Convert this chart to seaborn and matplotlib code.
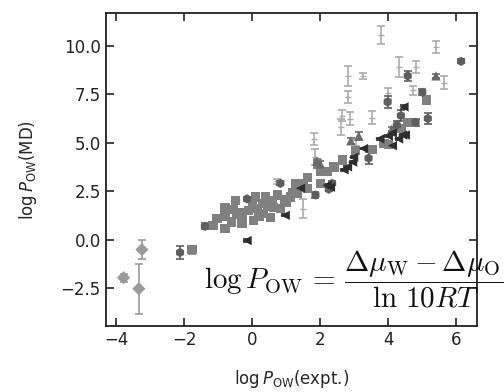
import numpy as np
import pandas as pd
import matplotlib
matplotlib.use("Agg")
import matplotlib.pyplot as plt
import seaborn as sns

# ---- data ----
# error-bar-only points (light gray)
x_err = [3.78, 5.40, 4.30, 4.80, 2.83, 3.27, 5.63, 4.72, 2.83, 3.98, 2.65, 2.86, 2.60, 3.51, 1.83, 1.86, 1.50, 0.74, 3.05]
y_err = [10.57, 9.95, 8.90, 8.90, 8.45, 8.45, 8.10, 7.70, 7.35, 7.55, 6.40, 6.25, 5.80, 6.30, 5.20, 4.25, 1.60, 3.00, 4.90]
e_err = [0.47, 0.30, 0.50, 0.30, 0.50, 0.15, 0.35, 0.25, 0.30, 0.30, 0.30, 0.35, 0.40, 0.35, 0.30, 0.40, 0.50, 0.15, 0.25]

# diamonds
x_dia = [-3.24, -3.78, -3.33]
y_dia = [-0.52, -1.97, -2.54]
e_dia = [0.50, 0.20, 1.30]

# hexagons
x_hex = [-2.12, -1.39, 0.83, 1.86, 2.35, 3.42, 3.98, 4.37, 4.57, 4.80, 5.00, 5.16, 6.14, 2.25, -0.15, 4.25]
y_hex = [-0.67, 0.68, 2.90, 2.30, 2.90, 4.20, 7.10, 6.40, 8.45, 6.05, 7.60, 6.25, 9.20, 2.60, 2.10, 5.90]
e_hex = [0.35, 0.15, 0.10, 0.15, 0.10, 0.30, 0.30, 0.30, 0.25, 0.20, 0.15, 0.30, 0.10, 0.10, 0.10, 0.20]

# squares
x_sq = [-1.77, -1.15, -1.03, -0.80, -0.80, -0.80, -0.50, -0.35, -0.30, -0.30, 0.00, 0.03, 0.15, 0.30,
        0.33, 0.45, 0.60, 0.53, 0.62, 0.83, 0.95, 1.12, 1.20, 1.27, 1.33, 1.62, 1.62, 1.92, 2.00, 2.00,
        2.20, 2.40, 2.65, 3.04, 3.54, 3.87, 4.00, 4.37, 4.57, 5.13, -0.60, -0.10, 0.20, 0.75, 1.00,
        1.50, -0.55, -0.45, 0.10, 0.40]
y_sq = [-0.52, 0.73, 1.10, 0.57, 1.66, 1.20, 2.00, 1.40, 0.83, 1.10, 1.85, 1.00, 1.60, 1.85,
        1.35, 1.70, 2.00, 1.15, 1.66, 1.60, 2.05, 2.20, 2.40, 2.90, 2.40, 3.20, 2.65, 3.90, 2.90, 3.50,
        3.50, 3.75, 4.10, 4.60, 4.65, 4.95, 4.90, 5.75, 6.05, 7.20, 0.90, 1.50, 1.20, 2.30, 1.90,
        2.90, 1.55, 1.30, 2.20, 2.20]
e_sq = [0.20, 0.10, 0.10, 0.15, 0.10, 0.10, 0.10, 0.10, 0.10, 0.10, 0.10, 0.10, 0.10, 0.10,
        0.10, 0.10, 0.10, 0.10, 0.10, 0.10, 0.10, 0.10, 0.10, 0.10, 0.10, 0.10, 0.10, 0.10, 0.10, 0.10,
        0.10, 0.10, 0.10, 0.10, 0.10, 0.10, 0.10, 0.10, 0.10, 0.15, 0.10, 0.10, 0.10, 0.10, 0.10,
        0.10, 0.10, 0.10, 0.10, 0.10]

# up triangles
x_tri = [2.00, 2.90, 3.13, 5.40, 1.90, 4.10]
y_tri = [3.90, 5.10, 5.35, 8.45, 4.05, 5.70]
e_tri = [0.15, 0.15, 0.20, 0.10, 0.10, 0.10]

# left triangles (dark)
x_lt = [-0.15, 0.97, 1.42, 2.20, 2.30, 2.80, 2.95, 2.98, 3.27, 3.75, 4.12, 4.12, 4.42, 4.50, 4.46, 2.70, 4.30, 4.00]
y_lt = [-0.05, 1.25, 2.65, 2.80, 2.70, 3.75, 4.00, 4.25, 4.70, 5.20, 4.85, 5.50, 5.40, 5.40, 6.85, 3.60, 5.20, 5.35]
e_lt = [0.10, 0.05, 0.05, 0.05, 0.05, 0.05, 0.05, 0.05, 0.05, 0.05, 0.05, 0.05, 0.05, 0.05, 0.10, 0.05, 0.05, 0.05]

x_label = r"$\log P_{\rm OW}$(expt.)"
y_label = r"$\log P_{\rm OW}$(MD)"
formula = r"$\log P_{\rm OW}\,=\,\dfrac{\Delta\mu_{\rm W} - \Delta\mu_{\rm O}}{\ln\,10RT}$"

groups = {
    "dia": (x_dia, y_dia, e_dia, "D", "#9a9a9a", 5),
    "sq": (x_sq, y_sq, e_sq, "s", "#808080", 6),
    "tri": (x_tri, y_tri, e_tri, "^", "#6a6a6a", 6),
    "hex": (x_hex, y_hex, e_hex, "h", "#5e5e5e", 6),
    "lt": (x_lt, y_lt, e_lt, "<", "#2e2e2e", 6),
}

sns.set_style("ticks")
plt.rcParams["font.family"] = ["DejaVu Sans"]
plt.rcParams["mathtext.fontset"] = "dejavusans"
fig = plt.figure(figsize=(5.04, 3.92), dpi=100)
ax = fig.add_axes([0.210, 0.168, 0.736, 0.799])

# error-bar-only series
ax.errorbar(x_err, y_err, yerr=e_err, fmt="_", ms=5, color="#ababab", ecolor="#ababab",
            elinewidth=1.2, capsize=3, capthick=1.2, zorder=2)

rows = []
for name, (xs, ys, es, m, c, s) in groups.items():
    ax.errorbar(xs, ys, yerr=es, fmt="none", ecolor=c, elinewidth=1.2, capsize=3,
                capthick=1.2, zorder=2)
    for xv, yv in zip(xs, ys):
        rows.append({"x": xv, "y": yv, "g": name})
df = pd.DataFrame(rows)

sns.scatterplot(data=df, x="x", y="y", hue="g", style="g",
                palette={k: v[4] for k, v in groups.items()},
                markers={k: v[3] for k, v in groups.items()},
                s=45, linewidth=0, legend=False, ax=ax, zorder=3)

ax.set_xlim(-4.3, 6.6)
ax.set_ylim(-4.47, 11.7)
ax.set_xticks([-4, -2, 0, 2, 4, 6])
ax.set_yticks([-2.5, 0.0, 2.5, 5.0, 7.5, 10.0])
ax.set_yticklabels(["\u22122.5", "0.0", "2.5", "5.0", "7.5", "10.0"])
ax.set_xticklabels(["\u22124", "\u22122", "0", "2", "4", "6"])
ax.tick_params(direction="in", length=6, width=1.2, top=True, right=True,
               labelsize=12, colors="#222222", labelcolor="#222222")
for sp in ax.spines.values():
    sp.set_linewidth(1.3)
    sp.set_color("#222222")

ax.set_xlabel(x_label, fontsize=12, labelpad=14)
ax.set_ylabel(y_label, fontsize=12, labelpad=16)

fig.text(0.405, 0.288, formula, fontsize=21, math_fontfamily="cm",
         ha="left", va="center", color="#111111")

fig.savefig("out.png", dpi=100)
